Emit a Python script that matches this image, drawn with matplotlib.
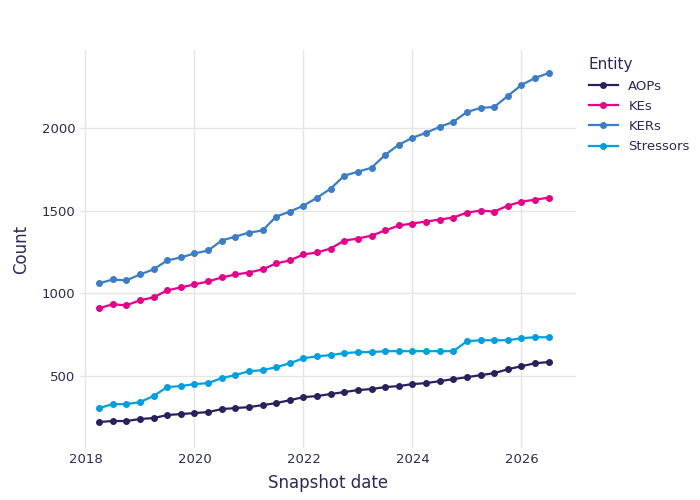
import numpy as np
import matplotlib
matplotlib.use("Agg")
from matplotlib import pyplot as plt

# quarterly snapshots 2018.25 .. 2026.5
dates = [2018.25 + 0.25 * i for i in range(34)]

aops = [223, 229, 229, 241, 247, 265, 271, 277, 283, 301, 307, 313, 325, 337, 355, 373,
        380, 392, 404, 416, 422, 434, 440, 452, 458, 470, 482, 494, 506, 518, 542, 560,
        578, 585]
kes = [910, 934, 928, 958, 976, 1018, 1036, 1054, 1072, 1096, 1114, 1126, 1145, 1181,
       1199, 1235, 1247, 1271, 1319, 1331, 1349, 1380, 1410, 1422, 1434, 1446, 1458,
       1488, 1500, 1494, 1530, 1554, 1566, 1578]
kers = [1060, 1084, 1078, 1114, 1145, 1199, 1217, 1241, 1259, 1319, 1343, 1367, 1380,
        1464, 1494, 1530, 1578, 1633, 1711, 1735, 1759, 1837, 1898, 1940, 1970, 2006,
        2036, 2096, 2120, 2126, 2193, 2259, 2301, 2331]
stressors = [307, 331, 331, 343, 380, 434, 440, 452, 458, 488, 506, 530, 536, 554, 578,
             608, 620, 627, 639, 645, 645, 651, 651, 651, 651, 651, 651, 711, 717, 717,
             717, 729, 735, 735]

series = [("AOPs", aops, "#2b1f5e"), ("KEs", kes, "#e6008a"),
          ("KERs", kers, "#3a7dc9"), ("Stressors", stressors, "#00a0e0")]
text_color = "#2a2a5a"

fig = plt.figure(figsize=(7, 5), dpi=100)
ax = fig.add_axes([80 / 700, 52 / 500, 496 / 700, 398 / 500])
for name, vals, color in series:
    ax.plot(dates, vals, color=color, marker="o", markersize=4, linewidth=1.6, label=name)

ax.set_xlim(2017.9, 2027.0)
ax.set_ylim(66, 2470)
ax.set_xticks([2018, 2020, 2022, 2024, 2026])
ax.set_yticks([500, 1000, 1500, 2000])
ax.grid(True, color="#e5e5e5", linewidth=1)
ax.set_axisbelow(True)
for s in ax.spines.values():
    s.set_visible(False)
ax.tick_params(length=0, colors=text_color, labelsize=9.5)
ax.set_xlabel("Snapshot date", color=text_color, fontsize=12, labelpad=6)
ax.set_ylabel("Count", color=text_color, fontsize=12, labelpad=8)

leg = ax.legend(title="Entity", loc="upper left", bbox_to_anchor=(1.015, 0.995),
                frameon=False, fontsize=9.5, title_fontsize=11, labelcolor=text_color,
                handlelength=2.2, borderaxespad=0, labelspacing=0.55)
leg.get_title().set_color(text_color)
leg._legend_box.align = "left"

fig.savefig("out.png", dpi=100)
